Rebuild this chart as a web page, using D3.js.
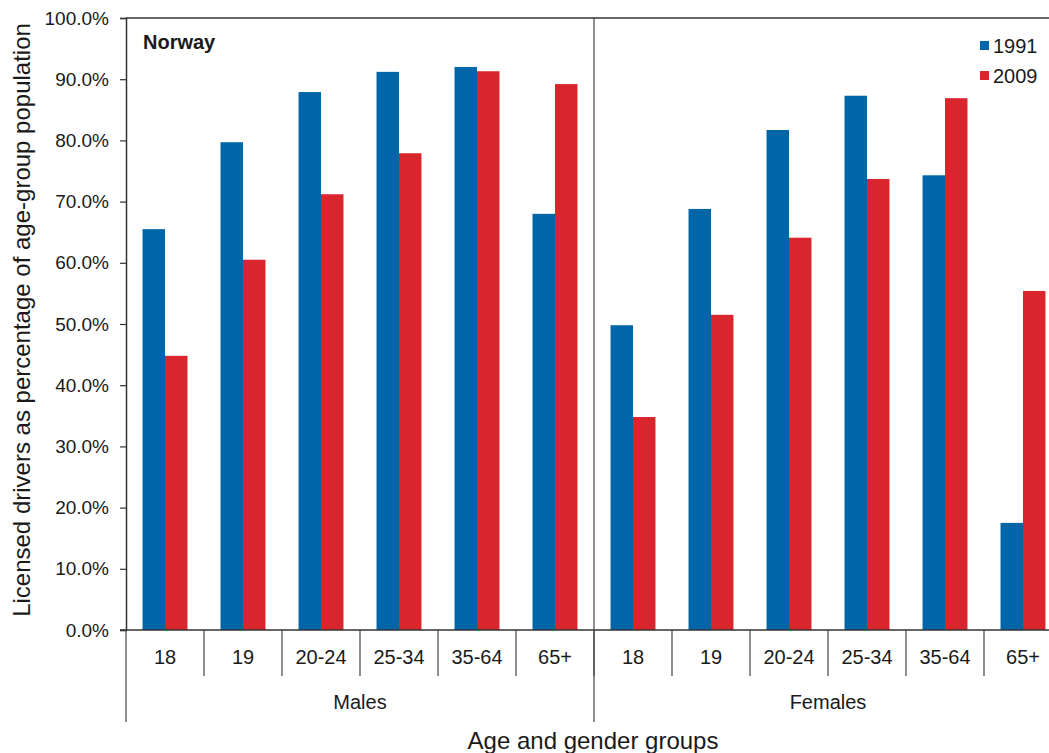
<!DOCTYPE html>
<html>
<head>
<meta charset="utf-8">
<script src="https://cdn.jsdelivr.net/npm/d3@7"></script>
<style>
  body { margin: 0; background: #fff; }
  text { font-family: "Liberation Sans", Arial, sans-serif; fill: #1a1a1a; }
</style>
</head>
<body>
<svg id="chart" width="1049" height="753"></svg>
<script>
// Data
const genders = ["Males", "Females"];
const ageGroups = ["18", "19", "20-24", "25-34", "35-64", "65+"];
const years = ["1991", "2009"];
const males1991 = [65.5, 79.7, 87.9, 91.2, 92.0, 68.0];
const males2009 = [44.8, 60.5, 71.2, 77.9, 91.3, 89.2];
const females1991 = [49.8, 68.8, 81.7, 87.3, 74.3, 17.5];
const females2009 = [34.8, 51.5, 64.1, 73.7, 86.9, 55.4];
const yTicks = [0, 10, 20, 30, 40, 50, 60, 70, 80, 90, 100];

const colors = { "1991": "#0066a8", "2009": "#d9252c" };

// Build rows for each category
let rows = [];
genders.forEach((g, gi) => {
  ageGroups.forEach((a, ai) => {
    let v91 = gi === 0 ? males1991[ai] : females1991[ai];
    let v09 = gi === 0 ? males2009[ai] : females2009[ai];
    rows.push({ key: g + "|" + a, gender: g, age: a, values: { "1991": v91, "2009": v09 } });
  });
});

const svg = d3.select("#chart");
const plotLeft = 126, plotRight = 1062, plotTop = 18, plotBottom = 630;

// Scales
const x0 = d3.scaleBand()
  .domain(rows.map(d => d.key))
  .range([plotLeft, plotRight])
  .paddingInner(0)
  .paddingOuter(0);

const x1 = d3.scaleBand()
  .domain(years)
  .range([x0.bandwidth() * 0.212, x0.bandwidth() * 0.788]);

const y = d3.scaleLinear()
  .domain([0, 100])
  .range([plotBottom, plotTop]);

// Bars
const groups = svg.append("g").selectAll("g")
  .data(rows)
  .enter()
  .append("g")
  .attr("transform", d => `translate(${x0(d.key)},0)`);

groups.selectAll("rect")
  .data(d => years.map(yr => ({ year: yr, value: d.values[yr] })))
  .enter()
  .append("rect")
  .attr("x", d => x1(d.year))
  .attr("width", x1.bandwidth())
  .attr("y", d => y(d.value))
  .attr("height", d => y(0) - y(d.value))
  .attr("fill", d => colors[d.year]);

// Y axis
const yAxis = svg.append("g")
  .attr("transform", `translate(${plotLeft},0)`)
  .call(d3.axisLeft(y).tickValues(yTicks).tickSize(6).tickPadding(11)
    .tickFormat(d => d.toFixed(1) + "%"));
yAxis.select(".domain").attr("stroke", "#333").attr("stroke-width", 1.5);
yAxis.selectAll(".tick line").attr("stroke", "#333").attr("stroke-width", 1.2);
yAxis.selectAll(".tick text").style("font-size", "19px").attr("fill", "#1a1a1a");

// Top border and baseline
svg.append("line")
  .attr("x1", plotLeft).attr("x2", plotRight)
  .attr("y1", plotTop).attr("y2", plotTop)
  .attr("stroke", "#333").attr("stroke-width", 1.5);
svg.append("line")
  .attr("x1", plotLeft - 6).attr("x2", plotRight)
  .attr("y1", plotBottom).attr("y2", plotBottom)
  .attr("stroke", "#333").attr("stroke-width", 1.5);

// Category dividers and labels
const catDividers = rows.map(d => x0(d.key)).slice(1);
svg.append("g").selectAll("line")
  .data(catDividers)
  .enter()
  .append("line")
  .attr("x1", d => d).attr("x2", d => d)
  .attr("y1", plotBottom).attr("y2", 676)
  .attr("stroke", "#444").attr("stroke-width", 1.2);

svg.append("g").selectAll("text")
  .data(rows)
  .enter()
  .append("text")
  .attr("x", d => x0(d.key) + x0.bandwidth() / 2)
  .attr("y", 664)
  .attr("text-anchor", "middle")
  .style("font-size", "20px")
  .text(d => d.age);

// Gender dividers and labels
const genderStart = genders.map(g => x0(g + "|" + ageGroups[0]));
svg.append("g").selectAll("line")
  .data(genderStart)
  .enter()
  .append("line")
  .attr("x1", d => d).attr("x2", d => d)
  .attr("y1", (d, i) => i === 0 ? plotBottom : plotTop)
  .attr("y2", 722)
  .attr("stroke", "#444").attr("stroke-width", 1.2);

svg.append("g").selectAll("text")
  .data(genders)
  .enter()
  .append("text")
  .attr("x", (g, i) => genderStart[i] + x0.bandwidth() * ageGroups.length / 2)
  .attr("y", 709)
  .attr("text-anchor", "middle")
  .style("font-size", "20px")
  .text(g => g);

// Axis titles
svg.append("text")
  .attr("x", 593)
  .attr("y", 749)
  .attr("text-anchor", "middle")
  .style("font-size", "24px")
  .text("Age and gender groups");

svg.append("text")
  .attr("transform", "translate(30,320) rotate(-90)")
  .attr("text-anchor", "middle")
  .style("font-size", "24px")
  .text("Licensed drivers as percentage of age-group population");

// Country label
svg.append("text")
  .attr("x", 143)
  .attr("y", 49)
  .style("font-size", "20px")
  .style("font-weight", "bold")
  .text("Norway");

// Legend
const legend = svg.append("g").selectAll("g")
  .data(years)
  .enter()
  .append("g")
  .attr("transform", (d, i) => `translate(980,${41 + i * 30})`);
legend.append("rect")
  .attr("width", 9).attr("height", 9)
  .attr("fill", d => colors[d]);
legend.append("text")
  .attr("x", 13).attr("y", 12)
  .style("font-size", "20px")
  .text(d => d);
</script>
</body>
</html>
